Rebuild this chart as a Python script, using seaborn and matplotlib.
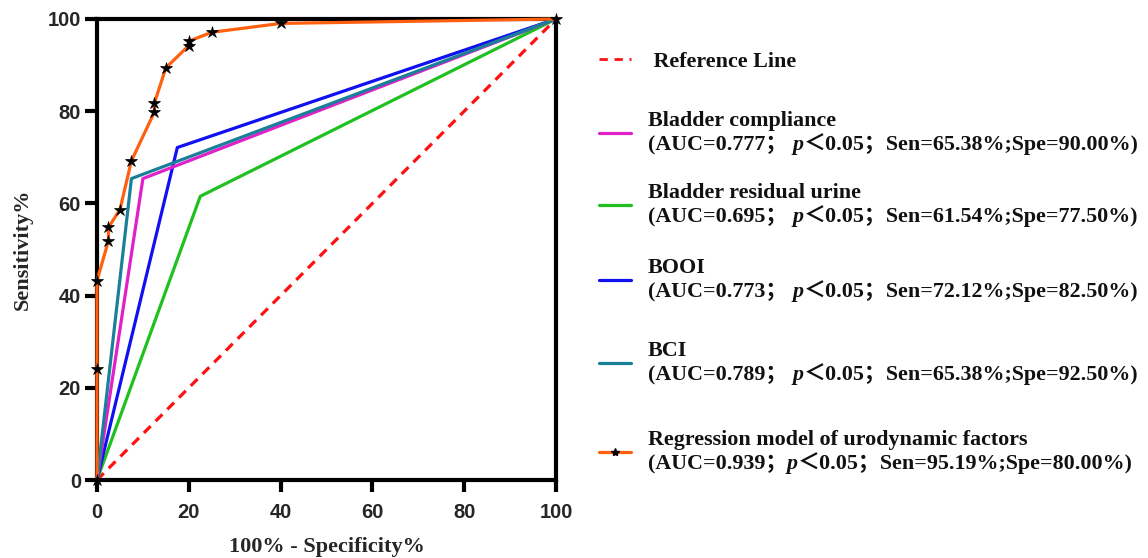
import matplotlib
matplotlib.use("Agg")
import matplotlib.pyplot as plt
import seaborn as sns
from matplotlib.lines import Line2D
from matplotlib.offsetbox import TextArea, HPacker, VPacker, DrawingArea, AnchoredOffsetbox

# ---------------- data ----------------
ref_fpr = [0, 100]
ref_tpr = [0, 100]

compliance_fpr = [0, 10.0, 100]
compliance_tpr = [0, 65.38, 100]

residual_fpr = [0, 22.5, 100]
residual_tpr = [0, 61.54, 100]

booi_fpr = [0, 17.5, 100]
booi_tpr = [0, 72.12, 100]

bci_fpr = [0, 7.5, 100]
bci_tpr = [0, 65.38, 100]

model_fpr = [0, 0, 0, 2.5, 2.5, 5.0, 7.5, 12.5, 12.5, 15.0, 20.0, 20.0, 25.0, 40.0, 100]
model_tpr = [0, 24.04, 43.27, 51.92, 54.81, 58.65, 69.23, 79.81, 81.73, 89.42, 94.23, 95.19, 97.12, 99.04, 100]

x_ticks = [0, 20, 40, 60, 80, 100]
y_ticks = [0, 20, 40, 60, 80, 100]

legend_titles = ["Reference Line", "Bladder compliance", "Bladder residual urine",
                 "BOOI", "BCI", "Regression model of urodynamic factors"]
legend_auc = [None, "0.777", "0.695", "0.773", "0.789", "0.939"]
legend_sen = [None, "65.38", "61.54", "72.12", "65.38", "95.19"]
legend_spe = [None, "90.00", "77.50", "82.50", "92.50", "80.00"]

colors = {"ref": "#FF1010", "compliance": "#E020C8", "residual": "#20C020",
          "booi": "#1010F0", "bci": "#1A7F98", "model": "#FF6010"}

# ---------------- figure ----------------
sns.set_style("white")
serif = ["Liberation Serif", "Noto Sans CJK SC"]
plt.rcParams["font.family"] = ["Liberation Sans", "DejaVu Sans"]

fig = plt.figure(figsize=(11.48, 5.58), dpi=100)
ax = fig.add_axes([97 / 1148, 1 - 480 / 558, (556 - 97) / 1148, (480 - 19) / 558])

lw = 2.3
sns.lineplot(x=ref_fpr, y=ref_tpr, ax=ax, color=colors["ref"], lw=lw,
             linestyle=(0, (3, 2.2)), sort=False, estimator=None, zorder=3, clip_on=False)
sns.lineplot(x=residual_fpr, y=residual_tpr, ax=ax, color=colors["residual"], lw=lw,
             sort=False, estimator=None, zorder=4, clip_on=False)
sns.lineplot(x=booi_fpr, y=booi_tpr, ax=ax, color=colors["booi"], lw=lw,
             sort=False, estimator=None, zorder=4, clip_on=False)
sns.lineplot(x=compliance_fpr, y=compliance_tpr, ax=ax, color=colors["compliance"], lw=lw,
             sort=False, estimator=None, zorder=4, clip_on=False)
sns.lineplot(x=bci_fpr, y=bci_tpr, ax=ax, color=colors["bci"], lw=lw,
             sort=False, estimator=None, zorder=5, clip_on=False)
sns.lineplot(x=model_fpr, y=model_tpr, ax=ax, color=colors["model"], lw=lw,
             marker="*", markersize=9, markerfacecolor="black", markeredgecolor="black",
             markeredgewidth=0.5, sort=False, estimator=None, zorder=6, clip_on=False)

ax.set_xlim(0, 100)
ax.set_ylim(0, 100)
ax.set_xticks(x_ticks)
ax.set_yticks(y_ticks)
for s in ax.spines.values():
    s.set_visible(True)
    s.set_linewidth(3)
    s.set_color("black")
    s.set_zorder(2)
ax.tick_params(axis="both", which="both", direction="out", length=8.5, width=3,
               color="black", labelsize=14.5, bottom=True, left=True)
ax.tick_params(axis="x", pad=8)
ax.tick_params(axis="y", pad=3)
for lab in ax.get_xticklabels() + ax.get_yticklabels():
    lab.set_fontweight("bold")
    lab.set_family(["Liberation Sans", "DejaVu Sans"])

ax.set_xlabel("100% - Specificity%", family=serif, weight="bold", size=16, labelpad=11)
ax.set_ylabel("Sensitivity%", family=serif, weight="bold", size=16, labelpad=11)

# ---------------- legend ----------------
fs = 15.8
tp = dict(family=serif, weight="bold", size=fs, color="#111111")
tpi = dict(family=serif, weight="bold", style="italic", size=fs, color="#111111")
handle_y = [62, 133, 205, 280, 363, 452]
series_keys = ["ref", "compliance", "residual", "booi", "bci", "model"]

for i, key in enumerate(series_keys):
    da = DrawingArea(23, 10, 0, 0)
    if key == "ref":
        ln = Line2D([0, 23], [7.2, 7.2], color=colors[key], lw=2, linestyle=(0, (3, 2.4)))
    else:
        ln = Line2D([0, 23], [5, 5], color=colors[key], lw=2.3)
    da.add_artist(ln)
    if key == "model":
        da.add_artist(Line2D([11.5], [5], marker="*", markersize=6, color="black", lw=0))
    if legend_auc[i] is None:
        txt = TextArea(" " + legend_titles[i], textprops=tp)
    else:
        sp = "" if key == "model" else " "
        line2 = HPacker(children=[
            TextArea("(AUC=" + legend_auc[i] + "；" + sp, textprops=tp),
            TextArea("p", textprops=tpi),
            TextArea("＜0.05；Sen=" + legend_sen[i] + "%;Spe=" + legend_spe[i] + "%)", textprops=tp),
        ], align="baseline", pad=0, sep=0)
        txt = VPacker(children=[TextArea(legend_titles[i], textprops=tp), line2],
                      align="left", pad=0, sep=2)
    box = HPacker(children=[da, txt], align="center", pad=0, sep=12)
    anch = AnchoredOffsetbox(loc="center left", child=box, pad=0, borderpad=0, frameon=False,
                             bbox_to_anchor=(599 / 1148, 1 - handle_y[i] / 558),
                             bbox_transform=fig.transFigure)
    fig.add_artist(anch)

fig.savefig("out.png", dpi=100)
